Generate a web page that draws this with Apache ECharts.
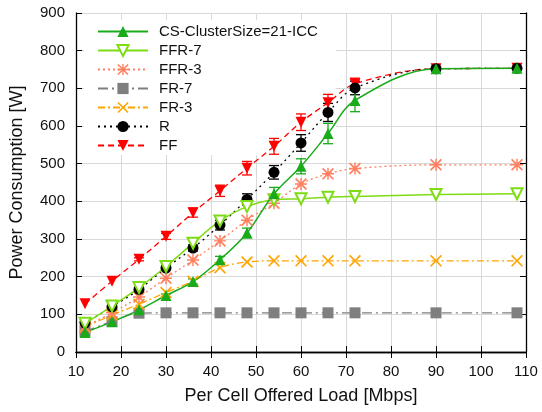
<!DOCTYPE html>
<html>
<head>
<meta charset="utf-8">
<script src="https://cdn.jsdelivr.net/npm/echarts@6/dist/echarts.min.js"></script>
<style>
  html, body { margin: 0; padding: 0; background: #fff; }
  #chart { width: 542px; height: 412px; }
</style>
</head>
<body>
<div id="chart"></div>
<script>
// Offered load per cell (Mbps)
const loads = [12, 18, 24, 30, 36, 42, 48, 54, 60, 66, 72, 90, 108];

// Power consumption (W) per scheme
const csCluster = [52, 80, 112, 150, 187, 245, 316, 420, 493, 580, 668, 752, 753];
const ffr7 = [76, 122, 171, 227, 289, 348, 386, 404, 407, 411, 413, 418, 420];
const ffr3 = [68, 104, 146, 196, 244, 295, 350, 395, 446, 473, 487, 497, 497];
const fr7 = [55, 81, 103, 104, 104, 104, 104, 104, 104, 104, 104, 104, 104];
const fr3 = [66, 98, 127, 158, 188, 224, 239, 242, 242, 242, 242, 242, 242];
const rSeries = [77, 120, 166, 223, 276, 337, 405, 477, 555, 636, 701, 752, 753];
const ffSeries = [128, 188, 246, 307, 370, 428, 488, 546, 610, 662, 712, 752, 753];

// Error bar half-widths (W)
const csErr = [0, 0, 0, 4, 7, 9, 13, 17, 20, 27, 30, 0, 0];
const rErr = [0, 0, 0, 5, 8, 13, 15, 18, 22, 24, 18, 0, 0];
const ffErr = [0, 0, 4, 8, 12, 15, 18, 21, 22, 22, 15, 0, 0];

// Axis ticks
const xTicks = { min: 10, max: 110, step: 10 };
const yTicks = { min: 0, max: 900, step: 100 };

const FONT = '"Liberation Sans", Arial, Helvetica, sans-serif';

const ASTERISK = 'path://M0,1 L1,0 L10,9 L9,10 Z M9,0 L10,1 L1,10 L0,9 Z M4.4,0 L5.6,0 L5.6,10 L4.4,10 Z M0,4.4 L10,4.4 L10,5.6 L0,5.6 Z';
const CROSS = 'path://M0,1 L1,0 L10,9 L9,10 Z M9,0 L10,1 L1,10 L0,9 Z';

function pairs(vals) {
  return loads.map((x, i) => [x, vals[i]]);
}

function errorData(vals, errs) {
  const out = [];
  loads.forEach((x, i) => {
    if (errs[i] > 0) out.push([x, vals[i] - errs[i], vals[i] + errs[i]]);
  });
  return out;
}

function errorSeries(vals, errs, color) {
  return {
    type: 'custom',
    name: '__err_' + color,
    data: errorData(vals, errs),
    z: 3,
    silent: true,
    renderItem: function (params, api) {
      const x = api.value(0);
      const lo = api.coord([x, api.value(1)]);
      const hi = api.coord([x, api.value(2)]);
      const cap = 5;
      const style = { stroke: color, lineWidth: 1.3 };
      return {
        type: 'group',
        children: [
          { type: 'line', shape: { x1: lo[0], y1: lo[1], x2: hi[0], y2: hi[1] }, style: style },
          { type: 'line', shape: { x1: lo[0] - cap, y1: lo[1], x2: lo[0] + cap, y2: lo[1] }, style: style },
          { type: 'line', shape: { x1: hi[0] - cap, y1: hi[1], x2: hi[0] + cap, y2: hi[1] }, style: style }
        ]
      };
    }
  };
}

function lineSeries(name, vals, color, opts) {
  return Object.assign({
    type: 'line',
    name: name,
    data: pairs(vals),
    smooth: 0.35,
    symbolSize: 11,
    showAllSymbol: true,
    z: 4,
    lineStyle: { color: color, width: 1.3, type: 'solid' },
    itemStyle: { color: color, borderWidth: 0 }
  }, opts || {});
}

const green = '#1aab1a';
const lime = '#7ddc14';
const coral = '#ff8060';
const gray = '#7f7f7f';
const orange = '#ffa500';
const black = '#000000';
const red = '#ff0000';

const chart = echarts.init(document.getElementById('chart'), null, { renderer: 'canvas' });

const axisCommon = {
  axisLine: { show: true, lineStyle: { color: '#000', width: 1.3 } },
  axisTick: { show: true, inside: true, length: 6, lineStyle: { color: '#000', width: 1 } }
};

chart.setOption({
  animation: false,
  backgroundColor: '#fff',
  grid: { left: 74, top: 13, right: 16, bottom: 60, containLabel: false },
  legend: {
    orient: 'vertical',
    left: 84,
    top: 20,
    z: 1,
    backgroundColor: '#fff',
    padding: [4, 18, 2, 13],
    itemWidth: 50,
    itemHeight: 14,
    itemGap: 4,
    data: ['CS-ClusterSize=21-ICC', 'FFR-7', 'FFR-3', 'FR-7', 'FR-3', 'R', 'FF'],
    textStyle: { fontFamily: FONT, fontSize: 15, color: '#111', padding: [0, 0, 0, 6], lineHeight: 14 }
  },
  xAxis: [
    Object.assign({
      type: 'value',
      min: xTicks.min, max: xTicks.max, interval: xTicks.step,
      name: 'Per Cell Offered Load [Mbps]',
      nameLocation: 'middle',
      nameGap: 35,
      nameTextStyle: { fontFamily: FONT, fontSize: 18, color: '#111' },
      axisLabel: { fontFamily: FONT, fontSize: 15, color: '#111', margin: 12 },
      splitLine: { show: true, lineStyle: { color: '#d9d9d9', width: 1 } }
    }, axisCommon),
    Object.assign({
      type: 'value', position: 'top',
      min: xTicks.min, max: xTicks.max, interval: xTicks.step,
      axisLabel: { show: false },
      splitLine: { show: false }
    }, axisCommon)
  ],
  yAxis: [
    Object.assign({
      type: 'value',
      min: yTicks.min, max: yTicks.max, interval: yTicks.step,
      name: 'Power Consumption [W]',
      nameLocation: 'middle',
      nameGap: 50,
      nameTextStyle: { fontFamily: FONT, fontSize: 18, color: '#111' },
      axisLabel: { fontFamily: FONT, fontSize: 15, color: '#111', margin: 11 },
      splitLine: { show: true, lineStyle: { color: '#d9d9d9', width: 1 } }
    }, axisCommon),
    Object.assign({
      type: 'value', position: 'right',
      min: yTicks.min, max: yTicks.max, interval: yTicks.step,
      axisLabel: { show: false },
      splitLine: { show: false }
    }, axisCommon)
  ],
  series: [
    lineSeries('FR-7', fr7, gray, {
      symbol: 'rect', symbolSize: 11,
      lineStyle: { color: gray, width: 1.3, type: [10, 4, 2, 4] }
    }),
    lineSeries('FR-3', fr3, orange, {
      symbol: CROSS, symbolSize: 12,
      lineStyle: { color: orange, width: 1.3, type: [7, 3, 2, 3] }
    }),
    lineSeries('FFR-3', ffr3, coral, {
      symbol: ASTERISK, symbolSize: 12,
      lineStyle: { color: coral, width: 1.3, type: [2, 3] }
    }),
    lineSeries('FF', ffSeries, red, {
      symbol: 'triangle', symbolRotate: 180, symbolSize: 11,
      lineStyle: { color: red, width: 1.3, type: [6, 4] }
    }),
    lineSeries('R', rSeries, black, {
      symbol: 'circle', symbolSize: 11,
      lineStyle: { color: black, width: 1.3, type: [2, 4] }
    }),
    lineSeries('FFR-7', ffr7, lime, {
      symbol: 'emptyTriangle', symbolRotate: 180, symbolSize: 11,
      itemStyle: { color: lime, borderWidth: 1.6 },
      lineStyle: { color: lime, width: 1.5, type: 'solid' }
    }),
    lineSeries('CS-ClusterSize=21-ICC', csCluster, green, {
      symbol: 'triangle', symbolSize: 11,
      lineStyle: { color: green, width: 1.5, type: 'solid' }
    }),
    errorSeries(ffSeries, ffErr, red),
    errorSeries(rSeries, rErr, black),
    errorSeries(csCluster, csErr, green)
  ]
});
</script>
</body>
</html>
